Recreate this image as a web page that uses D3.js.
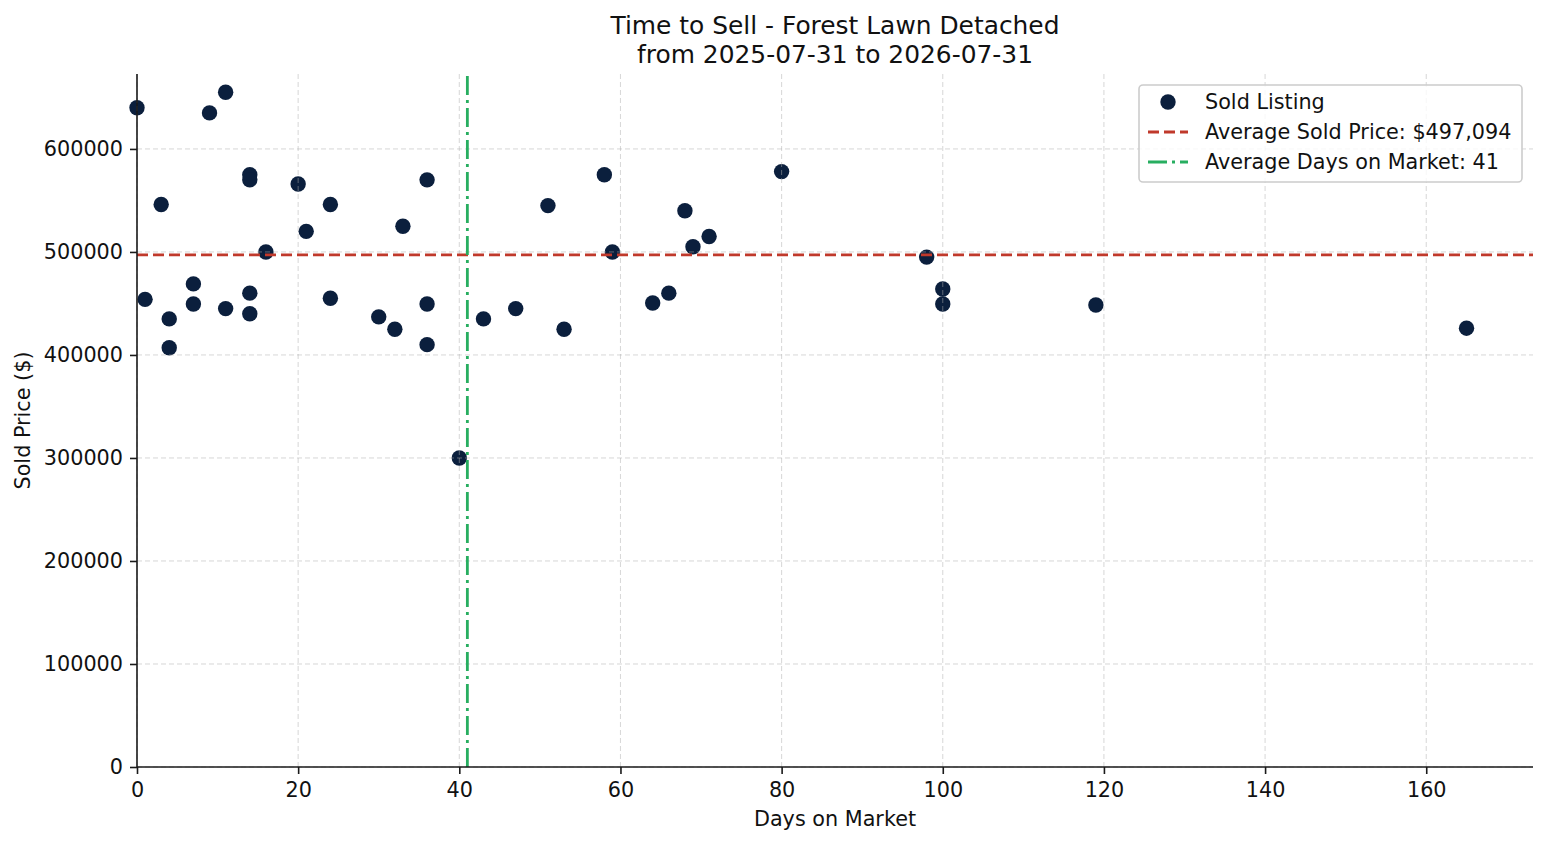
<!DOCTYPE html>
<html>
<head>
<meta charset="utf-8">
<script src="https://cdn.jsdelivr.net/npm/d3@7/dist/d3.min.js"></script>
<style>
  html, body { margin: 0; padding: 0; background: #fff; }
  svg { display: block; font-family: "DejaVu Sans", sans-serif; }
</style>
</head>
<body>
<svg id="chart" width="1547" height="845"></svg>
<script>
// ---- data ----
const daysOnMarket = [0, 1, 3, 4, 4, 7, 7, 9, 11, 11, 14, 14, 14, 14, 16, 20, 21, 24, 24, 30, 32, 33, 36, 36, 36, 40, 43, 47, 51, 53, 58, 59, 64, 66, 68, 69, 71, 80, 98, 100, 100, 119, 165];
const soldPrices   = [640000, 454000, 546000, 435000, 407000, 469000, 449500, 635000, 655000, 445000, 575000, 570000, 460000, 440000, 500000, 566000, 520000, 546000, 455000, 437000, 425000, 525000, 570000, 449500, 410000, 300000, 435000, 445000, 545000, 425000, 575000, 500000, 450500, 460000, 540000, 505000, 515000, 578000, 495000, 464000, 449500, 448500, 426000];
const avgSoldPrice = 497094;
const avgDays = 41;
const xTicks = [0, 20, 40, 60, 80, 100, 120, 140, 160];
const yTicks = [0, 100000, 200000, 300000, 400000, 500000, 600000];
const titleLines = ["Time to Sell - Forest Lawn Detached", "from 2025-07-31 to 2026-07-31"];
const legendLabels = ["Sold Listing", "Average Sold Price: $497,094", "Average Days on Market: 41"];

// ---- layout ----
const M = { left: 137, right: 1533, top: 74, bottom: 767 };
const svg = d3.select("#chart");
const FS = "20.75px";

const x = d3.scaleLinear().domain([0, 173.25]).range([M.left, M.right]);
const y = d3.scaleLinear().domain([0, 672750]).range([M.bottom, M.top]);

const markColor = "#0b1f3d";
const red = "#c0392b";
const green = "#27ae60";

// scatter (below grid, like matplotlib)
svg.append("g").selectAll("circle")
  .data(daysOnMarket.map((d, i) => [d, soldPrices[i]]))
  .join("circle")
  .attr("cx", d => x(d[0]))
  .attr("cy", d => y(d[1]))
  .attr("r", 7.7)
  .attr("fill", markColor);

// grid
const grid = svg.append("g").attr("stroke", "#b0b0b0").attr("stroke-opacity", 0.5)
  .attr("stroke-width", 1).attr("stroke-dasharray", "5,3");
grid.selectAll("line.gx").data(xTicks).join("line")
  .attr("x1", d => x(d)).attr("x2", d => x(d))
  .attr("y1", M.top).attr("y2", M.bottom);
grid.selectAll("line.gy").data(yTicks).join("line")
  .attr("x1", M.left).attr("x2", M.right)
  .attr("y1", d => y(d)).attr("y2", d => y(d));

// average lines
svg.append("line")
  .attr("x1", M.left).attr("x2", M.right)
  .attr("y1", y(avgSoldPrice)).attr("y2", y(avgSoldPrice))
  .attr("stroke", red).attr("stroke-width", 2.8).attr("stroke-dasharray", "11,5");
svg.append("line")
  .attr("x1", x(avgDays)).attr("x2", x(avgDays))
  .attr("y1", M.bottom).attr("y2", M.top)
  .attr("stroke", green).attr("stroke-width", 2.8).attr("stroke-dasharray", "19,5,3,5");

// axes
const xAxis = d3.axisBottom(x).tickValues(xTicks).tickSize(7).tickPadding(8).tickFormat(d3.format("d"));
const yAxis = d3.axisLeft(y).tickValues(yTicks).tickSize(7).tickPadding(7).tickFormat(d3.format("d"));

const gx = svg.append("g").attr("transform", `translate(0,${M.bottom})`).call(xAxis);
const gy = svg.append("g").attr("transform", `translate(${M.left},0)`).call(yAxis);
[gx, gy].forEach(g => {
  g.select(".domain").attr("stroke", "#1a1a1a").attr("stroke-width", 1.6);
  g.selectAll(".tick line").attr("stroke", "#1a1a1a").attr("stroke-width", 1.6);
  g.selectAll(".tick text").attr("fill", "#111").style("font-size", FS)
    .style("font-family", "'DejaVu Sans', sans-serif");
});
gx.select(".domain").attr("d", `M${M.left},0H${M.right}`);
gy.select(".domain").attr("d", `M0,${M.bottom}V${M.top}`);

// axis labels
svg.append("text").attr("x", (M.left + M.right) / 2).attr("y", 826)
  .attr("text-anchor", "middle").style("font-size", FS).attr("fill", "#111")
  .text("Days on Market");
svg.append("text").attr("transform", `translate(30,${(M.top + M.bottom) / 2}) rotate(-90)`)
  .attr("text-anchor", "middle").style("font-size", FS).attr("fill", "#111")
  .text("Sold Price ($)");

// title
svg.append("g").selectAll("text").data(titleLines).join("text")
  .attr("x", (M.left + M.right) / 2).attr("y", (d, i) => 34 + i * 28.5)
  .attr("text-anchor", "middle").style("font-size", "24.9px").attr("fill", "#111")
  .text(d => d);

// legend
const lg = svg.append("g");
lg.append("rect").attr("x", 1139).attr("y", 85).attr("width", 383).attr("height", 97)
  .attr("rx", 4).attr("fill", "#fff").attr("fill-opacity", 0.8)
  .attr("stroke", "#cccccc").attr("stroke-width", 1.6);
const rowsY = [102, 132, 162];
lg.append("circle").attr("cx", 1168).attr("cy", rowsY[0]).attr("r", 7.7).attr("fill", markColor);
lg.append("line").attr("x1", 1148).attr("x2", 1188).attr("y1", rowsY[1]).attr("y2", rowsY[1])
  .attr("stroke", red).attr("stroke-width", 2.8).attr("stroke-dasharray", "11,5");
lg.append("line").attr("x1", 1148).attr("x2", 1188).attr("y1", rowsY[2]).attr("y2", rowsY[2])
  .attr("stroke", green).attr("stroke-width", 2.8).attr("stroke-dasharray", "19,5,3,5");
lg.selectAll("text").data(legendLabels).join("text")
  .attr("x", 1205).attr("y", (d, i) => rowsY[i]).attr("dy", "0.35em")
  .style("font-size", FS).attr("fill", "#111").text(d => d);
</script>
</body>
</html>
